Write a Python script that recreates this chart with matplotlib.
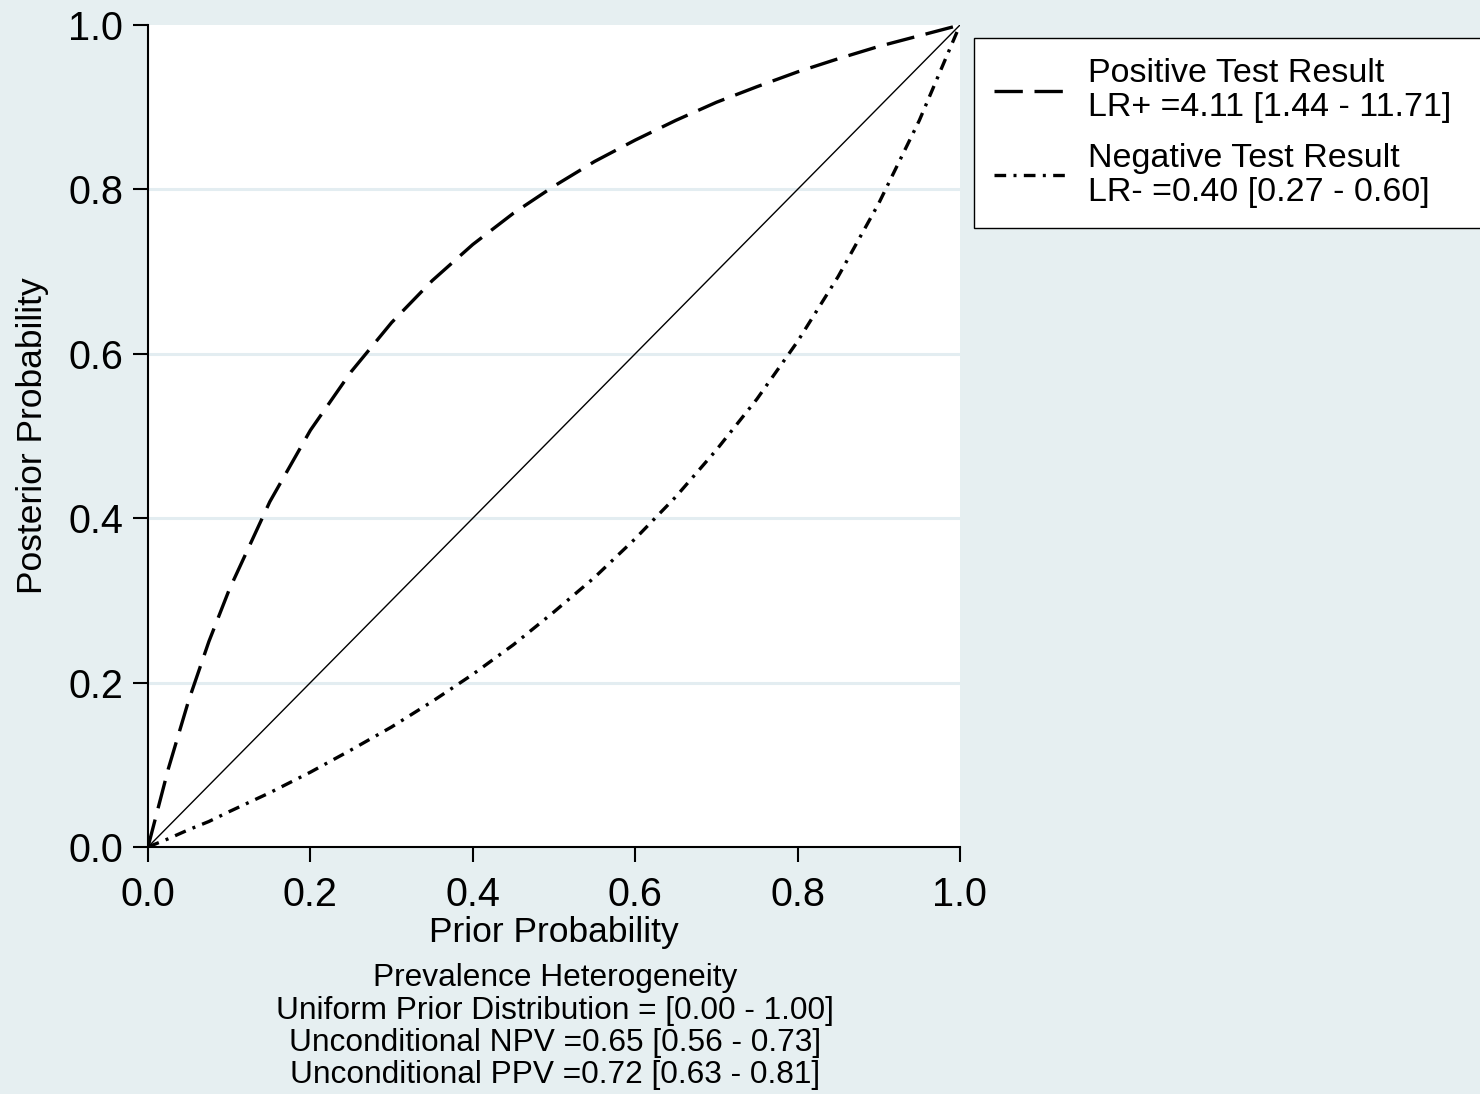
import matplotlib.pyplot as plt

# values
prior = [0.0, 0.025, 0.05, 0.075, 0.1, 0.15, 0.2, 0.25, 0.3, 0.35, 0.4, 0.45, 0.5,
         0.55, 0.6, 0.65, 0.7, 0.75, 0.8, 0.85, 0.9, 0.95, 1.0]
post_pos = [0.0, 0.095, 0.178, 0.25, 0.313, 0.42, 0.507, 0.578, 0.638, 0.689, 0.733,
            0.771, 0.804, 0.834, 0.86, 0.884, 0.906, 0.925, 0.943, 0.959, 0.974, 0.987, 1.0]
post_neg = [0.0, 0.01, 0.021, 0.031, 0.043, 0.066, 0.091, 0.118, 0.146, 0.177, 0.21,
            0.246, 0.286, 0.328, 0.375, 0.426, 0.483, 0.545, 0.615, 0.694, 0.783, 0.884, 1.0]
diag = [0.0, 1.0]

pos_label = "Positive Test Result\nLR+ =4.11 [1.44 - 11.71]"
neg_label = "Negative Test Result\nLR- =0.40 [0.27 - 0.60]"
notes = ["Prevalence Heterogeneity",
         "Uniform Prior Distribution = [0.00 - 1.00]",
         "Unconditional NPV =0.65 [0.56 - 0.73]",
         "Unconditional PPV =0.72 [0.63 - 0.81]"]
ticks = [0.0, 0.2, 0.4, 0.6, 0.8, 1.0]

bg = "#e6eff1"
plt.rcParams['font.family'] = ['Liberation Sans', 'DejaVu Sans']

fig = plt.figure(figsize=(14.8, 10.94), dpi=100, facecolor=bg)
ax = fig.add_axes([0.1, 0.2258, 0.5486, 0.7513])
ax.set_facecolor("white")

for t in ticks[1:-1]:
    ax.axhline(t, color="#e3edf1", lw=2.2, zorder=0)

ax.plot(prior, post_pos, color="black", lw=2.4, dashes=(8.5, 3.5), label=pos_label)
ax.plot(prior, post_neg, color="black", lw=2.4, dashes=(3.5, 2.2, 0.9, 2.2), label=neg_label)
ax.plot(diag, diag, color="black", lw=1.0)

ax.set_xlim(0, 1)
ax.set_ylim(0, 1)
ax.set_xticks(ticks)
ax.set_yticks(ticks)
ax.set_xticklabels([f"{t:.1f}" for t in ticks])
ax.set_yticklabels([f"{t:.1f}" for t in ticks])
ax.tick_params(labelsize=28.5, length=11, width=1.5, direction="out")
ax.tick_params(axis="x", pad=10)
ax.tick_params(axis="y", pad=7)
for s in ["top", "right"]:
    ax.spines[s].set_visible(False)
for s in ["left", "bottom"]:
    ax.spines[s].set_linewidth(1.5)

ax.set_xlabel("Prior Probability", fontsize=25.5, labelpad=1)
ax.set_ylabel("Posterior Probability", fontsize=25.5, labelpad=14)

leg = ax.legend(loc="upper left", bbox_to_anchor=(0.658, 0.7925, 0.345, 0.1728),
                bbox_transform=fig.transFigure, mode="expand",
                fontsize=24.5, frameon=True, fancybox=False, edgecolor="black", framealpha=1,
                handlelength=2.2, labelspacing=0.6, borderpad=0.6, handletextpad=0.55,
                borderaxespad=0)
for txt in leg.get_texts():
    txt.set_linespacing(1.1)

for i, line in enumerate(notes):
    fig.text(555 / 1480, 1 - (978 + i * 32.5) / 1094, line, ha="center", va="center", fontsize=22.8)

fig.savefig("out.png", dpi=100, facecolor=bg)
